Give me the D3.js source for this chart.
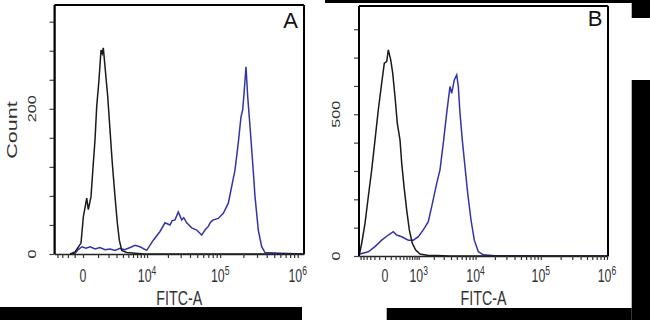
<!DOCTYPE html>
<html>
<head>
<meta charset="utf-8">
<script src="https://cdn.jsdelivr.net/npm/d3@7"></script>
<style>
  body { margin: 0; background: #fff; }
  svg text { font-family: "Liberation Sans", Arial, sans-serif; }
</style>
</head>
<body>
<div id="chart"></div>
<script>
// histogram traces, [FITC-A value, count]
var aBlack = [[-830, 0], [-474, 3], [-108, 15], [16, 51], [206, 77], [301, 61], [474, 79], [632, 125],
  [756, 157], [886, 203], [1073, 240], [1248, 281], [1360, 276], [1460, 284], [1627, 258], [1910, 217],
  [2166, 171], [2444, 125], [2795, 79], [3117, 43], [3414, 19], [3797, 5], [4681, 2], [6474, 1], [9000, 0],
  [1200000, 0]];

var aBlue = [[-830, 0], [-474, 1], [-280, 6], [-52, 10], [160, 8], [420, 10], [756, 7], [1150, 9], [1627, 6],
  [2166, 7], [2795, 5], [3520, 8], [4280, 6], [5380, 9], [6474, 12], [7780, 10], [9874, 5], [12380, 19],
  [15470, 31], [18210, 43], [21380, 40], [23000, 46], [25080, 47], [27820, 58], [30950, 47], [33000, 50],
  [36150, 43], [42150, 36], [49160, 33], [57230, 26], [63280, 33], [69940, 38], [75000, 44], [81380, 47],
  [94520, 49], [109800, 56], [127600, 70], [141200, 93], [155900, 116], [171900, 153], [186400, 189],
  [196200, 199], [205600, 226], [216300, 258], [227500, 217], [243500, 176], [264000, 125], [282700, 79],
  [311700, 33], [344600, 10], [380200, 2], [600000, 1], [1200000, 0]];

var bBlack = [[-660, 5], [-622, 15], [-561, 45], [-451, 115], [-354, 209], [-264, 304], [-187, 409],
  [-118, 515], [-55, 610], [-11, 680], [27, 686], [55, 727], [99, 692], [138, 645], [187, 562], [240, 468],
  [308, 409], [354, 327], [421, 245], [506, 162], [597, 92], [711, 45], [857, 21], [1067, 7], [1573, 2],
  [2288, 2], [3848, 0], [1030000, 0]];

var bBlue = [[-660, 3], [-622, 7], [-354, 15], [-187, 33], [-55, 56], [55, 74], [150, 86], [225, 74],
  [354, 68], [561, 56], [752, 56], [980, 68], [1251, 92], [1573, 121], [1826, 174], [2259, 256],
  [2588, 304], [2957, 398], [3382, 504], [3848, 598], [4110, 574], [4540, 621], [4979, 639], [5286, 598],
  [5634, 504], [6140, 409], [6786, 315], [7500, 221], [8464, 127], [9550, 56], [11040, 15], [13210, 4],
  [20000, 1], [1030000, 0]];

// axis ticks
var aXTicks = [-2000, -1500, -1000, -500, 0, 1000, 2000, 3000, 4000, 5000, 6000, 7000, 8000, 9000,
  10000, 20000, 30000, 40000, 50000, 60000, 70000, 80000, 90000,
  100000, 200000, 300000, 400000, 500000, 600000, 700000, 800000, 900000, 1000000];
var bXTicks = [-600, -500, -400, -300, -200, -100, 0, 100, 200, 300, 400, 500, 600, 700, 800, 900,
  1000, 2000, 3000, 4000, 5000, 6000, 7000, 8000, 9000,
  10000, 20000, 30000, 40000, 50000, 60000, 70000, 80000, 90000,
  100000, 200000, 300000, 400000, 500000, 600000, 700000, 800000, 900000, 1000000];
var aXLabels = [0, 10000, 100000, 1000000];
var bXLabels = [0, 1000, 10000, 100000, 1000000];
var aYTicks = [0, 40, 80, 120, 160, 200, 240, 280, 320];
var bYTicks = [0, 100, 200, 300, 400, 500, 600, 700, 800];
var aYLabels = [0, 200];
var bYLabels = [0, 500];

var svg = d3.select("#chart").append("svg")
  .attr("width", 650)
  .attr("height", 320);

// scanned figure has stretched lettering
var stretch = "scale(0.95,1.35)";
var frames = [];

function panel(p) {
  var x = d3.scaleSymlog().constant(p.c)
    .domain(p.xDomain)
    .range([p.left, p.right]);
  var y = d3.scaleLinear()
    .domain([0, p.yMax])
    .range([p.bottom, p.top]);

  // traces
  var line = d3.line()
    .x(function(d) { return x(d[0]); })
    .y(function(d) { return y(d[1]); });
  svg.append("path").datum(p.blue)
    .attr("d", line).attr("fill", "none")
    .attr("stroke", "#3434a8").attr("stroke-width", 1.5);
  svg.append("path").datum(p.black)
    .attr("d", line).attr("fill", "none")
    .attr("stroke", "#1a1a1a").attr("stroke-width", 1.5);

  // x axis
  var xAxis = svg.append("g")
    .attr("transform", "translate(0," + p.bottom + ")")
    .call(d3.axisBottom(x).tickValues(p.xTicks).tickSize(4).tickSizeOuter(0).tickFormat(""));
  xAxis.select(".domain").attr("stroke", "#222").attr("stroke-width", 1.6);
  xAxis.selectAll(".tick line").attr("stroke", "#333").attr("stroke-width", 1.2);

  // y axis
  var yAxis = svg.append("g")
    .attr("transform", "translate(" + p.left + ",0)")
    .call(d3.axisLeft(y).tickValues(p.yTicks).tickSize(5).tickSizeOuter(0).tickFormat(""));
  yAxis.selectAll(".tick line").attr("stroke", "#444").attr("stroke-width", 1.2);

  // frame edges, drawn at the end
  frames.push([p.left, p.top, p.left, p.bottom]);
  frames.push([p.left, p.top, p.right, p.top]);
  frames.push([p.right, p.top, p.right, p.bottom]);

  // x tick labels
  p.xLabels.forEach(function(v) {
    var t = svg.append("text")
      .attr("transform", "translate(" + x(v) + ",282) " + stretch)
      .attr("text-anchor", "middle")
      .attr("font-size", 13)
      .attr("fill", "#333");
    if (v === 0) {
      t.text("0");
    } else {
      t.append("tspan").text("10");
      t.append("tspan").attr("font-size", 9).attr("dy", -5).text(Math.round(Math.log10(v)));
    }
  });

  // y tick labels (rotated)
  p.yLabels.forEach(function(v) {
    svg.append("text")
      .attr("transform", "translate(" + (p.left - 19) + "," + y(v) + ") " + stretch + " rotate(-90)")
      .attr("text-anchor", "middle")
      .attr("font-size", 12)
      .attr("fill", "#333")
      .text(v);
  });

  // axis title
  svg.append("text")
    .attr("transform", "translate(" + ((p.left + p.right) / 2) + ",305) " + stretch)
    .attr("text-anchor", "middle")
    .attr("font-size", 15)
    .attr("fill", "#333")
    .text("FITC-A");

  // panel letter
  svg.append("text")
    .attr("x", p.letterX).attr("y", p.letterY)
    .attr("text-anchor", "middle")
    .attr("font-size", 22)
    .attr("fill", "#111")
    .text(p.letter);
}

panel({ left: 54.5, right: 304, top: 5, bottom: 254, c: 1780, xDomain: [-2347, 1205000], yMax: 343,
  black: aBlack, blue: aBlue, xTicks: aXTicks, xLabels: aXLabels, yTicks: aYTicks, yLabels: aYLabels,
  letter: "A", letterX: 290.5, letterY: 28 });
panel({ left: 359, right: 608, top: 6, bottom: 256, c: 450, xDomain: [-660, 1037000], yMax: 882,
  black: bBlack, blue: bBlue, xTicks: bXTicks, xLabels: bXLabels, yTicks: bYTicks, yLabels: bYLabels,
  letter: "B", letterX: 595, letterY: 26 });

// y title
svg.append("text")
  .attr("transform", "translate(16.5,130) " + stretch + " rotate(-90)")
  .attr("text-anchor", "middle")
  .attr("font-size", 16)
  .attr("fill", "#333")
  .text("Count");

// black masking bars from the scanned source
var bars = [[0, 307, 302, 13], [386.7, 308, 245, 12], [631.7, 80, 18.3, 240], [631.7, 0, 18.3, 18], [325, 0, 307, 3]];
svg.selectAll(".mask").data(bars).enter().append("rect")
  .attr("class", "mask")
  .attr("x", function(d) { return d[0]; })
  .attr("y", function(d) { return d[1]; })
  .attr("width", function(d) { return d[2]; })
  .attr("height", function(d) { return d[3]; })
  .attr("fill", "#000");

frames.forEach(function(f) {
  svg.append("line")
    .attr("x1", f[0]).attr("y1", f[1])
    .attr("x2", f[2]).attr("y2", f[3])
    .style("stroke", "#000")
    .style("stroke-width", "2px");
});
</script>
</body>
</html>
